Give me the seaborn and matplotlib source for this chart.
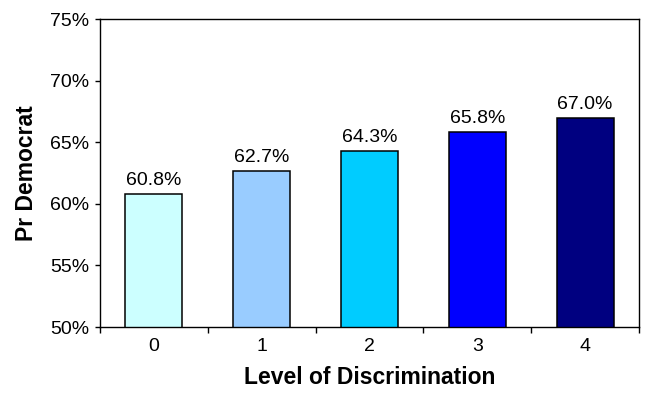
import matplotlib
matplotlib.use("Agg")
import matplotlib.pyplot as plt
import seaborn as sns
import pandas as pd
from matplotlib.ticker import FixedLocator, PercentFormatter

levels = ["0", "1", "2", "3", "4"]
pr_democrat = [60.8, 62.7, 64.3, 65.8, 67.0]
bar_colors = ["#CCFFFF", "#99CCFF", "#00CCFF", "#0000FF", "#000080"]
y_ticks = [50, 55, 60, 65, 70, 75]

sns.set_theme(style="white")
plt.rcParams["font.family"] = ["Liberation Sans", "DejaVu Sans"]
plt.rcParams["text.color"] = "black"
plt.rcParams["axes.labelcolor"] = "black"
plt.rcParams["xtick.color"] = "black"
plt.rcParams["ytick.color"] = "black"

df = pd.DataFrame({"level": levels, "pr": pr_democrat})

fig = plt.figure(figsize=(6.46, 3.94), dpi=100)
ax = fig.add_axes([100 / 646, 1 - 327 / 394, 539 / 646, 308 / 394])

sns.barplot(data=df, x="level", y="pr", hue="level", palette=bar_colors,
            saturation=1, width=0.53, edgecolor="black", linewidth=1.1,
            legend=False, ax=ax)

ax.set_xlim(-0.5, 4.5)
ax.set_ylim(50, 75)
ax.yaxis.set_major_locator(FixedLocator(y_ticks))
ax.yaxis.set_major_formatter(PercentFormatter(decimals=0))

for i, v in enumerate(pr_democrat):
    ax.text(i, v + 0.4, f"{v:.1f}%", ha="center", va="bottom", fontsize=14)

ax.set_xlabel("Level of Discrimination", fontsize=16.5, fontweight="bold", labelpad=8)
ax.set_ylabel("Pr Democrat", fontsize=16.5, fontweight="bold", labelpad=9)

# category labels centred under bars, tick marks between categories
ax.tick_params(axis="x", which="major", length=0, labelsize=14, pad=8)
ax.xaxis.set_minor_locator(FixedLocator([-0.5, 0.5, 1.5, 2.5, 3.5, 4.5]))
ax.tick_params(axis="x", which="minor", length=4, width=1, color="black",
               direction="out", bottom=True)
ax.tick_params(axis="y", which="major", length=3.5, width=1, color="black",
               direction="out", left=True, labelsize=14, pad=4)

for side in ["left", "bottom", "top", "right"]:
    ax.spines[side].set_visible(True)
    ax.spines[side].set_color("black")
    ax.spines[side].set_linewidth(1.0)

fig.savefig("out.png", dpi=100)
